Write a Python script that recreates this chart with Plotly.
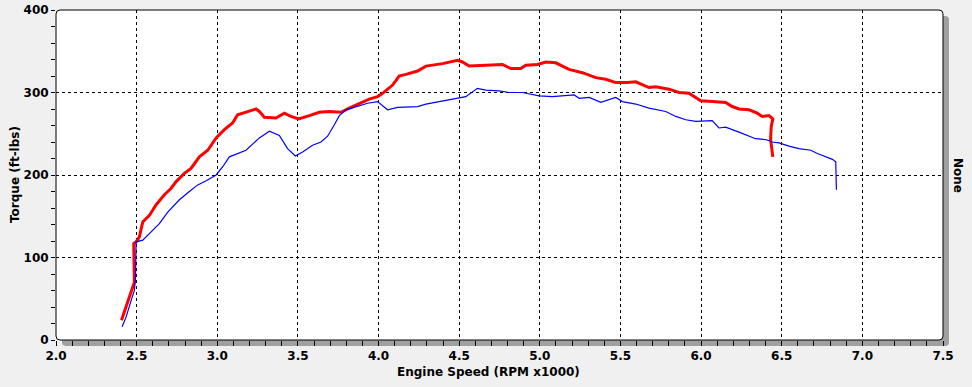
import plotly.graph_objects as go

# ---- data ----
red_rpm = [2.406, 2.424, 2.455, 2.476, 2.486, 2.482, 2.497, 2.517, 2.528, 2.538, 2.579, 2.621, 2.672, 2.714,
           2.745, 2.796, 2.837, 2.889, 2.941, 2.993, 3.044, 3.095, 3.126, 3.178, 3.240, 3.261, 3.292, 3.364,
           3.416, 3.457, 3.504, 3.571, 3.633, 3.695, 3.767, 3.818, 3.880, 3.942, 3.994, 4.025, 4.087, 4.128,
           4.170, 4.242, 4.294, 4.397, 4.490, 4.520, 4.562, 4.665, 4.696, 4.768, 4.820, 4.882, 4.913, 4.985,
           5.037, 5.099, 5.140, 5.181, 5.264, 5.347, 5.409, 5.471, 5.543, 5.595, 5.677, 5.719, 5.801, 5.863,
           5.925, 5.998, 6.069, 6.152, 6.193, 6.235, 6.297, 6.348, 6.379, 6.421, 6.445, 6.435, 6.431, 6.445]
red_torque = [24, 34, 52, 64, 70, 117, 119, 125, 137, 143, 151, 164, 176, 184,
              192, 202, 208, 222, 230, 245, 255, 263, 273, 276, 280, 277, 270, 269,
              275, 271, 268, 272, 276, 277, 276, 281, 287, 292, 295, 299, 309, 320,
              322, 326, 332, 335, 339, 337, 332, 333, 334, 334, 329, 329, 333, 334,
              337, 336, 332, 328, 324, 318, 316, 312, 312, 313, 306, 307, 304, 300,
              299, 290, 289, 288, 283, 280, 279, 275, 271, 272, 268, 259, 243, 222]

blue_rpm = [2.410, 2.435, 2.466, 2.486, 2.493, 2.493, 2.497, 2.538, 2.579, 2.641, 2.693, 2.765, 2.827, 2.879,
            2.931, 2.993, 3.034, 3.075, 3.178, 3.261, 3.323, 3.385, 3.436, 3.484, 3.529, 3.591, 3.643, 3.684,
            3.726, 3.757, 3.798, 3.860, 3.932, 3.994, 4.056, 4.118, 4.242, 4.294, 4.397, 4.500, 4.541, 4.613,
            4.665, 4.748, 4.810, 4.892, 4.996, 5.078, 5.161, 5.213, 5.244, 5.306, 5.378, 5.429, 5.471, 5.512,
            5.595, 5.677, 5.781, 5.843, 5.905, 5.967, 6.069, 6.111, 6.152, 6.235, 6.338, 6.400, 6.441, 6.483,
            6.545, 6.607, 6.680, 6.721, 6.773, 6.814, 6.835, 6.835, 6.839]
blue_torque = [16, 28, 48, 60, 76, 113, 119, 121, 129, 141, 155, 170, 180, 188,
               193, 200, 210, 222, 230, 245, 253, 248, 232, 223, 228, 236, 240, 247,
               261, 272, 279, 283, 287, 289, 279, 282, 283, 286, 290, 294, 295, 305,
               303, 302, 300, 300, 296, 295, 296, 297, 293, 294, 288, 291, 294, 289,
               286, 281, 277, 271, 267, 265, 266, 257, 258, 252, 244, 243, 240, 239,
               235, 232, 230, 226, 222, 219, 216, 184, 182]

x_tick_vals = [2.0, 2.5, 3.0, 3.5, 4.0, 4.5, 5.0, 5.5, 6.0, 6.5, 7.0, 7.5]
x_tick_text = ["2.0", "2.5", "3.0", "3.5", "4.0", "4.5", "5.0", "5.5", "6.0", "6.5", "7.0", "7.5"]
y_tick_vals = [0, 100, 200, 300, 400]
y_tick_text = ["0", "100", "200", "300", "400"]

x_title = "Engine Speed (RPM x1000)"
y_title = "Torque (ft-lbs)"
y2_title = "None"

# ---- layout geometry ----
W, H = 972, 387
ML, MR, MT, MB = 56, 29, 10, 47
PW = W - ML - MR
PH = H - MT - MB
px = 1.0 / PW
py = 1.0 / PH

FONT = "DejaVu Sans"

fig = go.Figure()
fig.add_trace(go.Scatter(x=red_rpm, y=red_torque, mode="lines",
                         line=dict(color="#ff0000", width=3), hoverinfo="skip", showlegend=False))
fig.add_trace(go.Scatter(x=blue_rpm, y=blue_torque, mode="lines",
                         line=dict(color="#0000ff", width=1.2), hoverinfo="skip", showlegend=False))

# rounded frame path (paper coords)
rx, ry = 4 * px, 4 * py
x0, x1, y0, y1 = 0, 1, 0, 1
frame_path = (f"M {x0+rx},{y0} L {x1-rx},{y0} Q {x1},{y0} {x1},{y0+ry} "
              f"L {x1},{y1-ry} Q {x1},{y1} {x1-rx},{y1} L {x0+rx},{y1} "
              f"Q {x0},{y1} {x0},{y1-ry} L {x0},{y0+ry} Q {x0},{y0} {x0+rx},{y0} Z")
sx, sy = 6 * px, 6 * py
shadow_path = (f"M {x0+rx+sx},{y0-sy} L {x1-rx+sx},{y0-sy} Q {x1+sx},{y0-sy} {x1+sx},{y0+ry-sy} "
               f"L {x1+sx},{y1-ry-sy} Q {x1+sx},{y1-sy} {x1-rx+sx},{y1-sy} L {x0+rx+sx},{y1-sy} "
               f"Q {x0+sx},{y1-sy} {x0+sx},{y1-ry-sy} L {x0+sx},{y0+ry-sy} Q {x0+sx},{y0-sy} {x0+rx+sx},{y0-sy} Z")

shapes = [
    dict(type="path", xref="paper", yref="paper", path=shadow_path,
         fillcolor="#a0a0a0", line=dict(width=0), layer="below"),
    dict(type="path", xref="paper", yref="paper", path=frame_path,
         fillcolor="white", line=dict(color="black", width=1), layer="below"),
]

tickfont = dict(family=FONT, size=12, color="black", weight="bold")
titlefont = dict(family=FONT, size=12, color="black", weight="bold")

fig.update_layout(
    width=W, height=H,
    margin=dict(l=ML, r=MR, t=MT, b=MB, pad=0, autoexpand=False),
    paper_bgcolor="#f0f0f0",
    plot_bgcolor="rgba(0,0,0,0)",
    shapes=shapes,
    showlegend=False,
    xaxis=dict(range=[2.0, 7.5], tickvals=x_tick_vals, ticktext=x_tick_text, automargin=False,
               showgrid=True, gridcolor="black", griddash="3px,3px", gridwidth=1,
               zeroline=False, showline=False,
               ticks="outside", ticklen=5, tickcolor="black", tickwidth=1,
               minor=dict(dtick=0.1, tick0=2.0, ticks="outside", ticklen=5, tickcolor="black", showgrid=False),
               tickfont=tickfont, fixedrange=True),
    yaxis=dict(range=[0, 400], tickvals=y_tick_vals, ticktext=y_tick_text, automargin=False,
               showgrid=True, gridcolor="black", griddash="3px,3px", gridwidth=1,
               zeroline=False, showline=False,
               ticks="outside", ticklen=4, tickcolor="black", tickwidth=1,
               minor=dict(dtick=20, tick0=0, ticks="outside", ticklen=4, tickcolor="black", showgrid=False),
               tickfont=tickfont, fixedrange=True),
    annotations=[
        dict(text=x_title, xref="paper", yref="paper", x=(488 - ML) / PW, y=0,
             yshift=-32, xanchor="center", yanchor="middle", showarrow=False, font=titlefont),
        dict(text=y_title, xref="paper", yref="paper", x=0, y=0.5, xshift=15 - ML,
             xanchor="center", yanchor="middle", textangle=-90, showarrow=False, font=titlefont),
        dict(text=y2_title, xref="paper", yref="paper", x=1, y=0.5, xshift=958 - (W - MR),
             xanchor="center", yanchor="middle", textangle=90, showarrow=False, font=titlefont),
    ],
)

fig.write_html(
    "out.html",
    config={"displayModeBar": False},
    post_script="document.body.style.margin='0';document.body.style.padding='0';"
                "document.documentElement.style.overflow='hidden';",
)
